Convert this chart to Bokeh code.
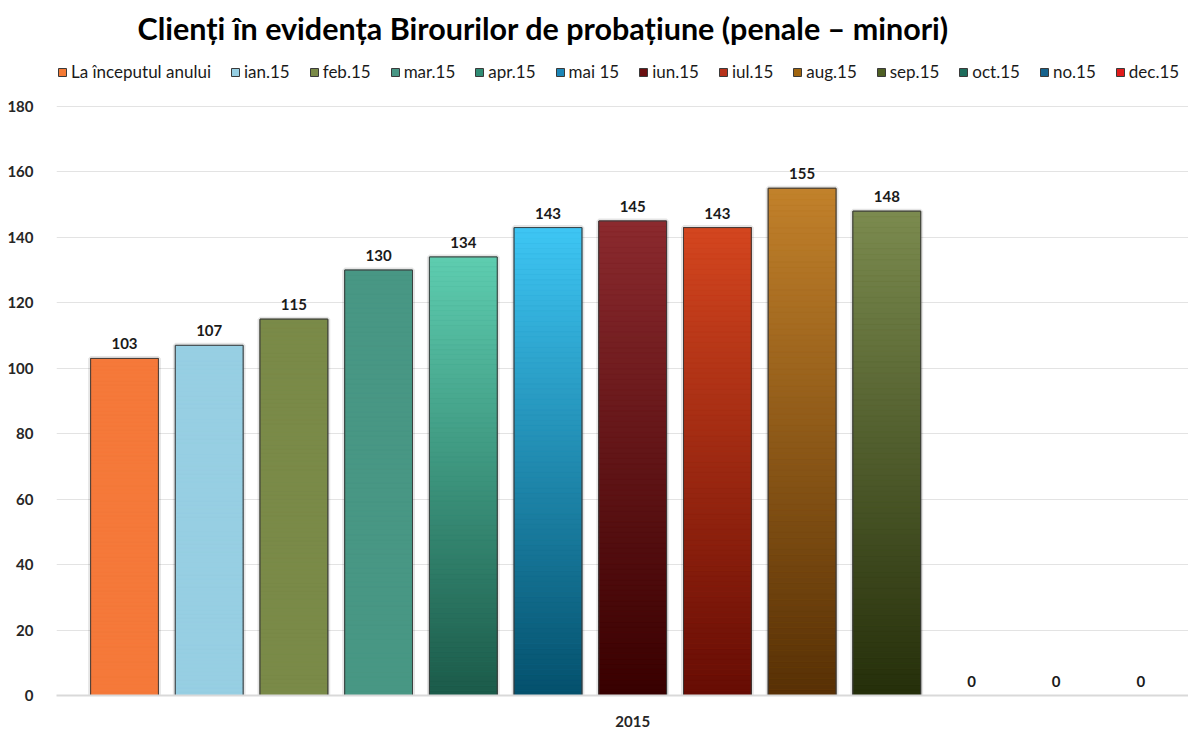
from bokeh.plotting import figure
from bokeh.models import Range1d, FixedTicker, ColumnDataSource, Legend, LegendItem
from bokeh.embed import file_html
from bokeh.resources import INLINE
from bokeh.core.properties import value

# ---- data ----
title_text = "Clienți în evidența Birourilor de probațiune (penale – minori)"
category_label = "2015"
series = ["La începutul anului", "ian.15", "feb.15", "mar.15", "apr.15", "mai 15",
          "iun.15", "iul.15", "aug.15", "sep.15", "oct.15", "no.15", "dec.15"]
values = [103, 107, 115, 130, 134, 143, 145, 143, 155, 148, 0, 0, 0]
top_colors = ["#F5793A", "#97CFE3", "#7A8A48", "#489784", "#5ECDB0", "#3EC6F4",
              "#8B2A2E", "#D4461F", "#C2812B", "#7B8B4F", "#2A7A68", "#1E6E98", "#E52222"]
bottom_colors = ["#F5793A", "#97CFE3", "#7A8A48", "#489784", "#1B5A49", "#04506C",
                 "#380000", "#660C04", "#573005", "#252E0A", "#15584A", "#10506F", "#C51515"]
legend_colors = ["#F47A35", "#96CFE3", "#7A8A47", "#479684", "#2F8C74", "#1B86B8",
                 "#6A0F10", "#B7321A", "#A0650F", "#4E5F23", "#1E6C5C", "#15628C", "#E01A1A"]
y_ticks = [0, 20, 40, 60, 80, 100, 120, 140, 160, 180]

# ---- geometry helpers ----
BAR_W = 0.80
xs = list(range(len(values)))


def hex2rgb(h):
    h = h.lstrip("#")
    return tuple(int(h[i:i + 2], 16) for i in (0, 2, 4))


def mix(c_bottom, c_top, t):
    a, b = hex2rgb(c_bottom), hex2rgb(c_top)
    return "#%02x%02x%02x" % tuple(int(round(a[j] + (b[j] - a[j]) * t)) for j in range(3))


base_src = ColumnDataSource(dict(
    left=[x - BAR_W / 2 for x in xs], right=[x + BAR_W / 2 for x in xs],
    top=values, bottom=[0] * len(values), color=legend_colors,
    label=[str(v) for v in values], x=xs))

pos = [i for i, v in enumerate(values) if v > 0]
pos_src = ColumnDataSource(dict(
    left=[xs[i] - BAR_W / 2 for i in pos], right=[xs[i] + BAR_W / 2 for i in pos],
    top=[values[i] for i in pos], bottom=[0] * len(pos)))

N = 90
sl = dict(left=[], right=[], top=[], bottom=[], color=[])
for x, v, ct, cb in zip(xs, values, top_colors, bottom_colors):
    if v <= 0:
        continue
    for k in range(N):
        sl["left"].append(x - BAR_W / 2)
        sl["right"].append(x + BAR_W / 2)
        sl["bottom"].append(v * k / N)
        sl["top"].append(v * (k + 1) / N)
        sl["color"].append(mix(cb, ct, (k + 0.5) / N))
slice_src = ColumnDataSource(sl)

# ---- figure ----
p = figure(width=1188, height=731, output_backend="svg", toolbar_location=None,
           x_range=Range1d(-0.803, 12.562), y_range=Range1d(0, 197.11),
           min_border_left=56, min_border_right=0, min_border_bottom=36, min_border_top=50)
p.outline_line_color = None
p.background_fill_color = "white"

p.title.text = title_text
p.title.text_font = "Lato"
p.title.text_font_size = "30.5px"
p.title.text_font_style = "bold"
p.title.text_color = "#000000"
p.title.align = "left"
p.title.offset = 81

# glow / shadow
p.quad(left="left", right="right", top="top", bottom="bottom", source=pos_src,
       fill_alpha=0, line_color="#000000", line_alpha=0.10, line_width=5)
# base (legend) renderer
base = p.quad(left="left", right="right", top="top", bottom="bottom", source=base_src,
              fill_color="color", line_color="#3a3a3a", line_width=1)
# gradient slices
p.quad(left="left", right="right", top="top", bottom="bottom", source=slice_src,
       fill_color="color", line_color="color", line_width=0.5)
# outline
p.quad(left="left", right="right", top="top", bottom="bottom", source=pos_src,
       fill_alpha=0, line_color="#3a3a3a", line_width=1, line_alpha=0.9)

# value labels
p.text(x="x", y="top", text="label", source=base_src, text_align="center",
       text_baseline="bottom", y_offset=-9, text_font=value("Lato"),
       text_font_style="bold", text_font_size="15px", text_color="#1a1a1a")

# axes
p.yaxis.ticker = FixedTicker(ticks=y_ticks)
p.ygrid.ticker = FixedTicker(ticks=y_ticks)
p.ygrid.grid_line_color = "#e3e3e3"
p.xgrid.grid_line_color = None
p.yaxis.axis_line_color = None
p.yaxis.major_tick_line_color = None
p.yaxis.minor_tick_line_color = None
p.yaxis.major_label_standoff = 17
p.yaxis.major_label_text_font = "Lato"
p.yaxis.major_label_text_font_style = "bold"
p.yaxis.major_label_text_font_size = "15px"
p.yaxis.major_label_text_color = "#262626"

p.xaxis.ticker = FixedTicker(ticks=[6])
p.xaxis.major_label_overrides = {6: category_label}
p.xaxis.axis_line_color = "#d9d9d9"
p.xaxis.axis_line_width = 2
p.xaxis.major_tick_line_color = None
p.xaxis.minor_tick_line_color = None
p.xaxis.major_label_standoff = 14
p.xaxis.major_label_text_font = "Lato"
p.xaxis.major_label_text_font_style = "bold"
p.xaxis.major_label_text_font_size = "15px"
p.xaxis.major_label_text_color = "#262626"

items = [LegendItem(label=s, renderers=[base], index=i) for i, s in enumerate(series)]
legend = Legend(items=items, orientation="horizontal", location=(1, 613),
                label_text_font="Lato", label_text_font_size="17px", label_text_color="#1a1a1a",
                glyph_width=10, glyph_height=10, label_standoff=4, spacing=19,
                padding=0, margin=0, background_fill_alpha=0, border_line_alpha=0)
p.add_layout(legend)

open("out.html", "w").write(file_html(p, INLINE))
